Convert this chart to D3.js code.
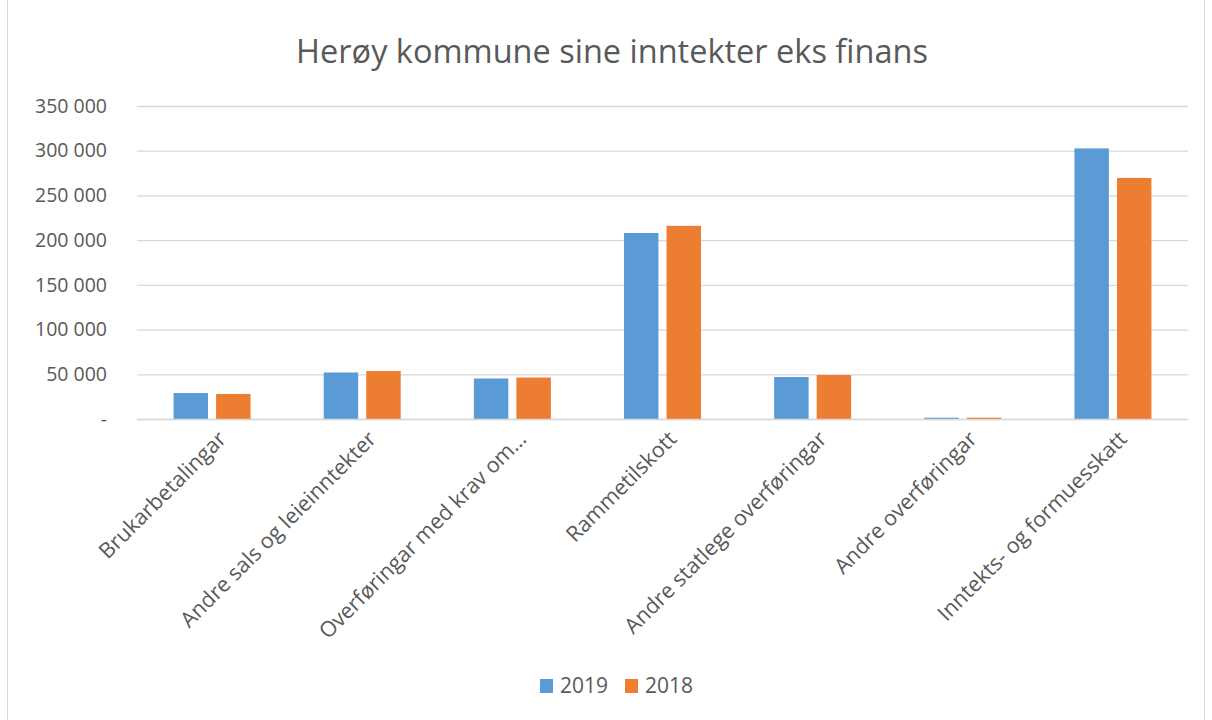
<!DOCTYPE html>
<html><head><meta charset="utf-8">
<script src="https://cdn.jsdelivr.net/npm/d3@7"></script>
<style>body{margin:0;background:#fff}svg{display:block}</style>
</head><body>
<svg id="c" width="1212" height="720"></svg>
<script>
const categories = ["Brukarbetalingar","Andre sals og leieinntekter","Overføringar med krav om…","Rammetilskott","Andre statlege overføringar","Andre overføringar","Inntekts- og formuesskatt"];
const series2019 = [29000, 52000, 45300, 208000, 47000, 1500, 302600];
const series2018 = [28000, 53700, 46400, 216000, 49200, 1500, 269600];
const seriesNames = ["2019","2018"];
const colors = ["#5B9BD5","#ED7D31"];
const yTicks = [0,50000,100000,150000,200000,250000,300000,350000];

const svg = d3.select("#c");
const font = "'Open Sans', 'Liberation Sans', sans-serif";
svg.append("rect").attr("x",7.5).attr("y",-1).attr("width",1197).attr("height",722).attr("fill","#fff").attr("stroke","#d9d9d9");

const pL=137, pR=1188, pT=106, pB=419;
const x = d3.scaleBand().domain(categories).range([pL,pR]);
const x1 = d3.scaleBand().domain(seriesNames).range([0,x.bandwidth()]).paddingInner(0.19).paddingOuter(0.86);
const y = d3.scaleLinear().domain([0,350000]).range([pB,pT]);

svg.append("text").attr("x",612).attr("y",63).attr("text-anchor","middle").attr("font-family",font).attr("font-size",32.5).attr("fill","#595959").text("Herøy kommune sine inntekter eks finans");

const fmt = v => v===0 ? "-" : d3.format(",")(v).replace(/,/g," ");
const yAxis = d3.axisLeft(y).tickValues(yTicks).tickSize(-(pR-pL)).tickFormat(fmt);
const gy = svg.append("g").attr("transform",`translate(${pL},0)`).call(yAxis);
gy.select(".domain").remove();
gy.selectAll(".tick line").attr("stroke","#d9d9d9").attr("stroke-width",1.3);
gy.selectAll(".tick text").attr("x",-30).attr("font-family",font).attr("font-size",19.5).attr("fill","#595959");

const data = categories.map((c,i)=>({c, vals:[series2019[i],series2018[i]]}));
const g = svg.append("g");
data.forEach(d=>{
  d.vals.forEach((v,j)=>{
    g.append("rect").attr("x",x(d.c)+x1(seriesNames[j])).attr("y",y(v)).attr("width",x1.bandwidth()).attr("height",y(0)-y(v)).attr("fill",colors[j]);
  });
});

const xAxis = d3.axisBottom(x).tickSize(0);
const gx = svg.append("g").attr("transform",`translate(0,${pB})`).call(xAxis);
gx.select(".domain").attr("stroke","#d9d9d9").attr("stroke-width",1.3);
gx.selectAll(".tick text").attr("font-family",font).attr("font-size",21.5).attr("fill","#595959")
  .attr("text-anchor","end").attr("transform","translate(10,16) rotate(-45)").attr("dy","0.35em").attr("y",0).attr("x",0);

const leg = svg.append("g").attr("transform","translate(540,686)");
seriesNames.forEach((s,i)=>{
  const gi = leg.append("g").attr("transform",`translate(${i*85},0)`);
  gi.append("rect").attr("x",0).attr("y",-7).attr("width",13).attr("height",14).attr("fill",colors[i]);
  gi.append("text").attr("x",20).attr("y",0).attr("dy","0.35em").attr("font-family",font).attr("font-size",21).attr("fill","#595959").text(s);
});
</script>
</body></html>
